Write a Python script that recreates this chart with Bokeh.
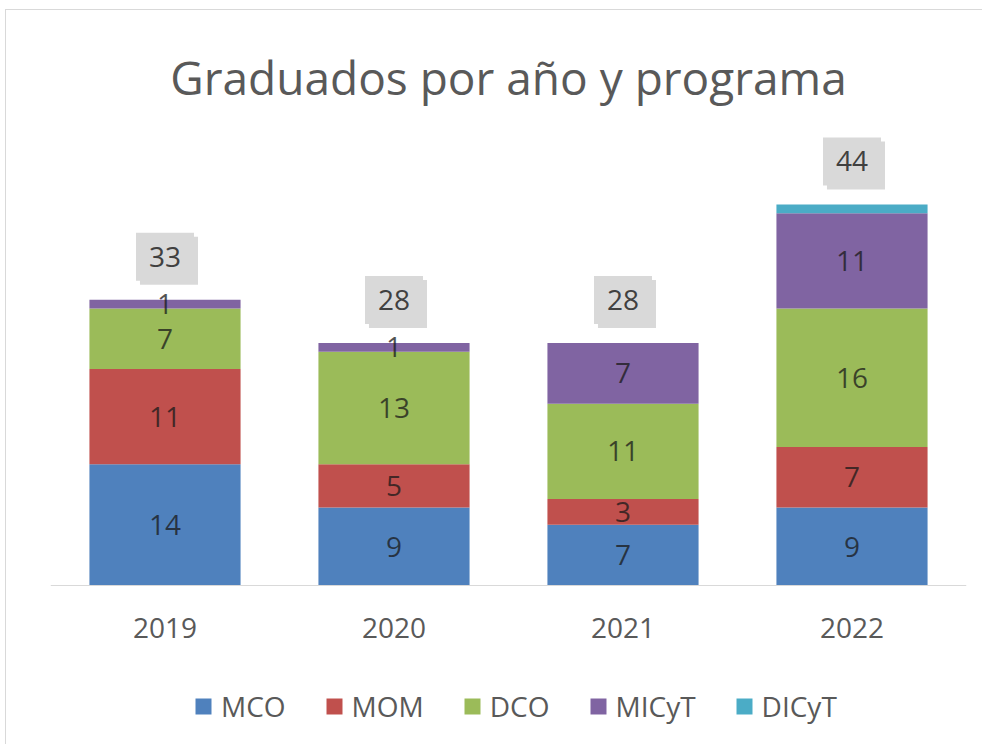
from bokeh.plotting import figure
from bokeh.models import ColumnDataSource, FactorRange, Range1d, Legend, LegendItem, Label
from bokeh.core.properties import value
from bokeh.embed import file_html
from bokeh.resources import INLINE

years = ["2019", "2020", "2021", "2022"]
series = ["MCO", "MOM", "DCO", "MICyT", "DICyT"]
mco = [14, 9, 7, 9]
mom = [11, 5, 3, 7]
dco = [7, 13, 11, 16]
micyt = [1, 1, 7, 11]
dicyt = [0, 0, 0, 1]
colors = ["#4f81bd", "#c0504d", "#9bbb59", "#8064a2", "#4bacc6"]
title_text = "Graduados por año y programa"

FONT = "Open Sans"
W, H = 977, 735

values_by_series = [mco, mom, dco, micyt, dicyt]
totals = [sum(v[i] for v in values_by_series) for i in range(len(years))]

p = figure(x_range=FactorRange(factors=years, range_padding=0),
           y_range=Range1d(-18.48, 66.4),
           width=W, height=H, output_backend="svg", toolbar_location=None,
           y_axis_location=None,
           min_border_left=44, min_border_right=17, min_border_top=0, min_border_bottom=0)
p.styles = {"border-left": "1px solid #d9d9d9", "border-top": "1px solid #d9d9d9",
            "margin-left": "5px", "margin-top": "9px"}
p.outline_line_color = None
p.xgrid.grid_line_color = None
p.ygrid.grid_line_color = None
p.background_fill_color = "white"
p.border_fill_color = "white"

data = {"year": years}
for name, vals in zip(series, values_by_series):
    data[name] = vals
src = ColumnDataSource(data)

renderers = p.vbar_stack(series, x="year", width=0.66, color=colors, source=src, line_color=None)

# segment labels
lx, ly, lt = [], [], []
for i, y in enumerate(years):
    base = 0
    for name, vals in zip(series, values_by_series):
        v = vals[i]
        if v > 0 and name != "DICyT":
            lx.append(y)
            ly.append(base + v / 2)
            lt.append(str(v))
        base += v
seg = ColumnDataSource(dict(x=lx, y=ly, t=lt))
p.text(x="x", y="y", text="t", source=seg, text_align="center", text_baseline="middle",
       text_font=value(FONT), text_font_size="28px", text_color="#1a1a1a", text_alpha=0.75)

# total labels with box + shadow
tot = ColumnDataSource(dict(x=years, y=totals, t=[str(t) for t in totals]))
pad = dict(left=13, right=13, top=14, bottom=14)
p.text(x="x", y="y", text="t", source=tot, text_align="center", text_baseline="middle",
       text_font=value(FONT), text_font_size="28px", text_alpha=0,
       x_offset=4, y_offset=-39, background_fill_color="#808080", background_fill_alpha=0.3,
       padding=pad)
p.text(x="x", y="y", text="t", source=tot, text_align="center", text_baseline="middle",
       text_font=value(FONT), text_font_size="28px", text_color="#404040",
       y_offset=-43, background_fill_color="#d9d9d9", background_fill_alpha=1.0,
       padding=pad)

# title
p.add_layout(Label(x=2, y=58.7, text=title_text, text_align="center", text_baseline="middle",
                   text_font=FONT, text_font_size="46px", text_color="#595959"))

# x axis drawn at the zero baseline
ax = p.xaxis[0]
ax.fixed_location = 0
ax.axis_line_color = "#d9d9d9"
ax.axis_line_width = 1
ax.major_tick_line_color = None
ax.minor_tick_line_color = None
ax.major_label_standoff = 27
ax.major_label_text_font = FONT
ax.major_label_text_font_size = "28px"
ax.major_label_text_color = "#595959"

legend = Legend(items=[LegendItem(label=n, renderers=[r]) for n, r in zip(series, renderers)],
                orientation="horizontal", location=(143, 20),
                glyph_width=20, glyph_height=20, label_standoff=8, spacing=38,
                padding=0, margin=0, border_line_color=None, background_fill_alpha=0,
                label_text_font=FONT, label_text_font_size="28px", label_text_color="#595959")
p.add_layout(legend)

open("out.html", "w").write(file_html(p, INLINE))
